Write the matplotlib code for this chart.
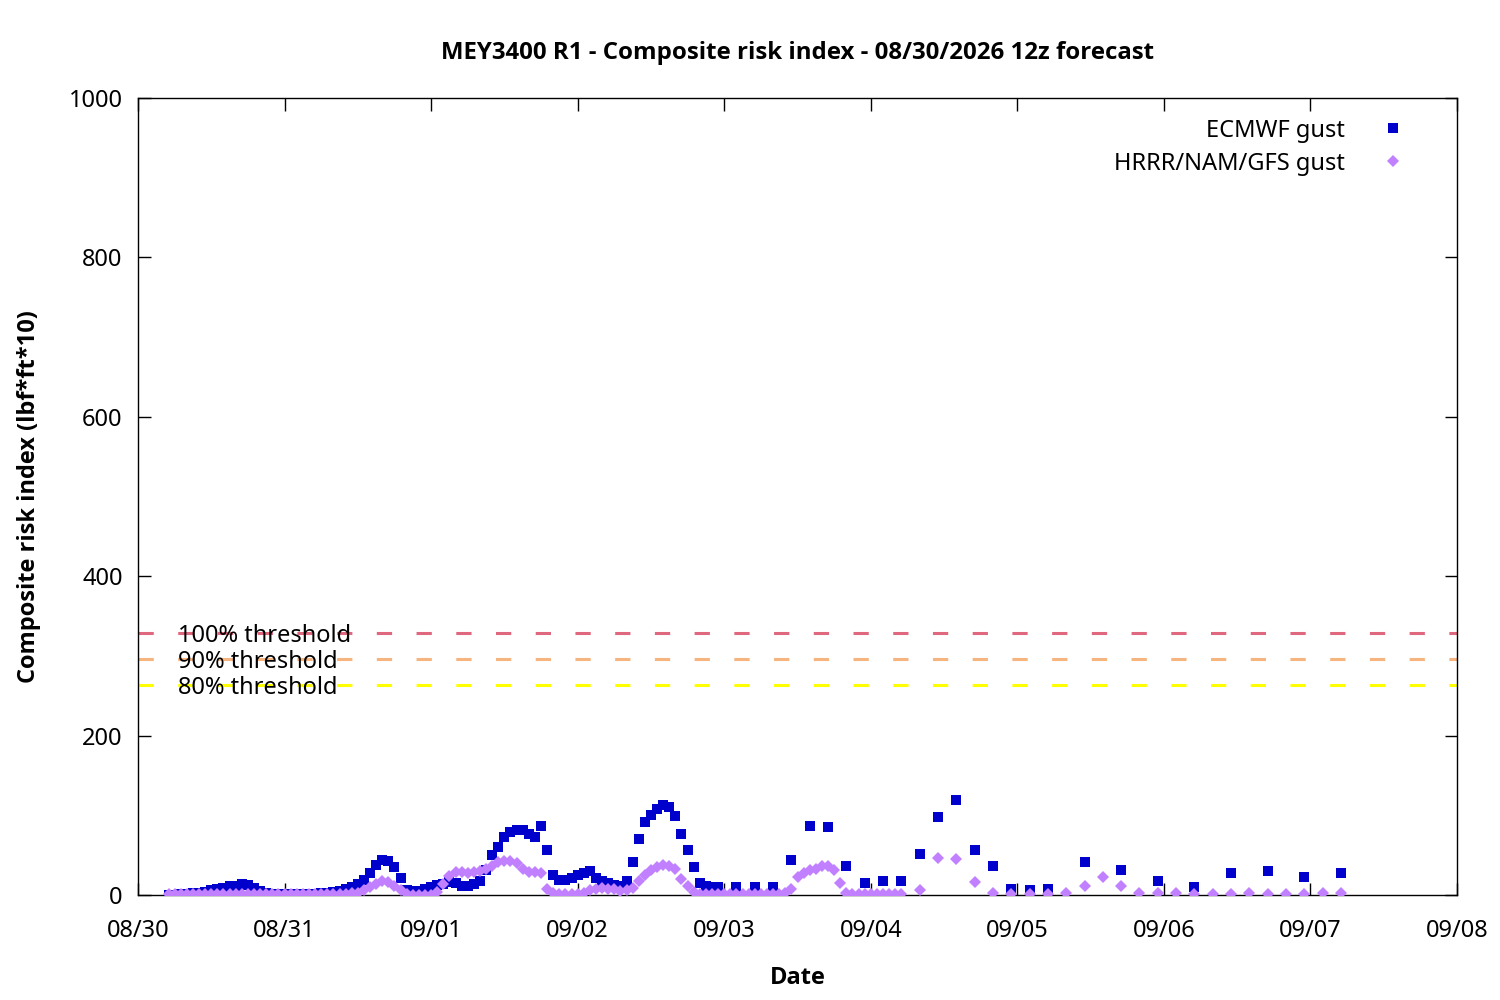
import datetime as dt
import matplotlib
matplotlib.use("Agg")
import matplotlib.pyplot as plt
import matplotlib.dates as mdates
from matplotlib import font_manager as fm

plt.rcParams['font.family'] = ['Noto Sans', 'DejaVu Sans']

# ---- data (hours after 08/30 00:00) ----
ecmwf_hours = list(range(5, 96)) + list(range(98, 150, 3)) + list(range(155, 198, 6))
ecmwf_vals = [
    0, 0, 1, 1, 2,
    3, 4, 6, 7, 9, 11, 11, 14, 13, 9,
    5, 2, 1, 1, 1, 1, 1, 1, 1, 1,
    2, 3, 4, 5, 7, 10, 14, 19, 28, 38,
    44, 43, 35, 21, 6, 5, 5, 7, 10, 12,
    14, 16, 15, 11, 11, 14, 17, 31, 50, 60,
    73, 79, 81, 81, 77, 73, 86, 56, 25, 19,
    19, 21, 25, 28, 30, 21, 17, 15, 13, 11,
    17, 42, 70, 92, 101, 108, 113, 110, 99, 77,
    57, 35, 15, 11, 10, 10,
    # 3-hourly
    10, 10, 10, 44, 87, 85, 36, 15, 18, 18, 52, 98, 119, 57, 37, 7, 6, 8,
    # 6-hourly
    42, 31, 18, 10, 28, 30, 22, 28,
]

hrrr_hours = list(range(5, 126)) + list(range(128, 198, 3))
hrrr_vals = [
    1, 1, 1, 1, 1,
    1, 1, 1, 1, 1, 1, 1, 1, 1, 1,
    1, 1, 1, 1, 1, 1, 1, 1, 1, 1,
    1, 1, 1, 1, 1, 2, 3, 6, 10, 14,
    17, 16, 11, 6, 1, 0, 0, 0, 0, 4,
    14, 24, 29, 29, 28, 29, 30, 32, 37, 41,
    43, 43, 40, 33, 29, 29, 28, 8, 2, 1,
    1, 1, 1, 3, 6, 8, 9, 8, 7, 5,
    6, 9, 17, 25, 31, 35, 38, 36, 32, 20,
    11, 4, 1, 1, 1, 1, 1, 1, 1, 1,
    1, 1, 1, 1, 1, 1, 3, 7, 23, 27,
    31, 33, 36, 36, 31, 15, 3, 1, 1, 1,
    1, 1, 1, 1, 1, 1,
    # 3-hourly
    6, 46, 45, 16, 2, 1, 1, 1, 2, 11, 22, 11, 2, 2, 2, 1, 1, 1, 2, 1, 1, 1, 2, 2,
]

threshold_100 = 329
threshold_levels = [1.0, 0.9, 0.8]
threshold_labels = ["100% threshold", "90% threshold", "80% threshold"]
threshold_colors = ["#e0687e", "#f6b47e", "#ffff00"]

series_labels = ["ECMWF gust", "HRRR/NAM/GFS gust"]
title = "MEY3400 R1 - Composite risk index - 08/30/2026 12z forecast"
x_start = dt.datetime(2026, 8, 30)
x_end = dt.datetime(2026, 9, 8)

# pick a bold family that really has a bold face
bold_family = 'DejaVu Sans'
for fam in ['Noto Sans', 'Open Sans', 'Lato', 'Roboto', 'Inter']:
    try:
        path = fm.findfont(fm.FontProperties(family=fam, weight='bold'), fallback_to_default=False)
        f = fm.FontProperties(fname=path)
        if f.get_weight() in ('bold', 700, 'heavy', 800, 600, 'semibold', 'demibold') or 'Bold' in path:
            bold_family = fam
            break
    except Exception:
        pass

# ---- figure ----
fig = plt.figure(figsize=(15, 10), dpi=100)
ax = fig.add_axes([138 / 1500, 1 - 895 / 1000, (1457 - 138) / 1500, (895 - 98) / 1000])

t_ec = [x_start + dt.timedelta(hours=h) for h in ecmwf_hours]
t_hr = [x_start + dt.timedelta(hours=h) for h in hrrr_hours]

FS = 17

for lvl, lab, col in zip(threshold_levels, threshold_labels, threshold_colors):
    y = threshold_100 * lvl
    ln = ax.axhline(y, color=col, lw=2.2, zorder=2)
    ln.set_dashes((5, 8))
    ax.text(0.0303, y, lab, transform=ax.get_yaxis_transform(), ha='left', va='center_baseline',
            fontsize=FS, color='black', zorder=3)

ec_color = "#0000cc"
hr_color = "#c080ff"
ax.plot(t_ec, ecmwf_vals, linestyle='none', marker='s', ms=6.5, mew=0, color=ec_color, zorder=4)
ax.plot(t_hr, hrrr_vals, linestyle='none', marker='D', ms=5.7, mew=0, color=hr_color, zorder=5)

# legend (gnuplot style: text then marker)
for i, (lab, col, mk, ms) in enumerate(zip(series_labels, [ec_color, hr_color], ['s', 'D'], [6.5, 5.7])):
    yy = 0.9624 - i * 0.0414
    ax.text(0.9151, yy, lab, transform=ax.transAxes, ha='right', va='center_baseline', fontsize=FS)
    ax.plot([0.9515], [yy], transform=ax.transAxes, marker=mk, ms=ms, mew=0, color=col,
            linestyle='none', clip_on=False)

ax.set_xlim(x_start, x_end)
ax.set_ylim(0, 1000)
ax.set_yticks(range(0, 1001, 200))
ax.xaxis.set_major_locator(mdates.DayLocator())
ax.xaxis.set_major_formatter(mdates.DateFormatter('%m/%d'))
ax.minorticks_off()

ax.tick_params(axis='both', which='major', direction='in', length=9, width=1,
               top=True, right=True, labelsize=FS, colors='black')
ax.tick_params(axis='x', pad=17)
ax.tick_params(axis='y', pad=11)
for sp in ax.spines.values():
    sp.set_linewidth(1.0)
    sp.set_color('black')

bold_kw = dict(fontsize=FS, fontweight='bold', family=[bold_family, 'DejaVu Sans'])
ax.set_xlabel("Date", **bold_kw)
ax.xaxis.set_label_coords(0.5, (895 - 966) / 797)
ax.set_ylabel("Composite risk index (lbf*ft*10)", **bold_kw)
ax.yaxis.set_label_coords((41 - 138) / 1319, 0.5)
title_kw = dict(bold_kw)
title_kw['fontsize'] = 17.3
ax.set_title(title, y=(895 - 53) / 797, va='center', pad=0, **title_kw)

fig.savefig("out.png", dpi=100)
